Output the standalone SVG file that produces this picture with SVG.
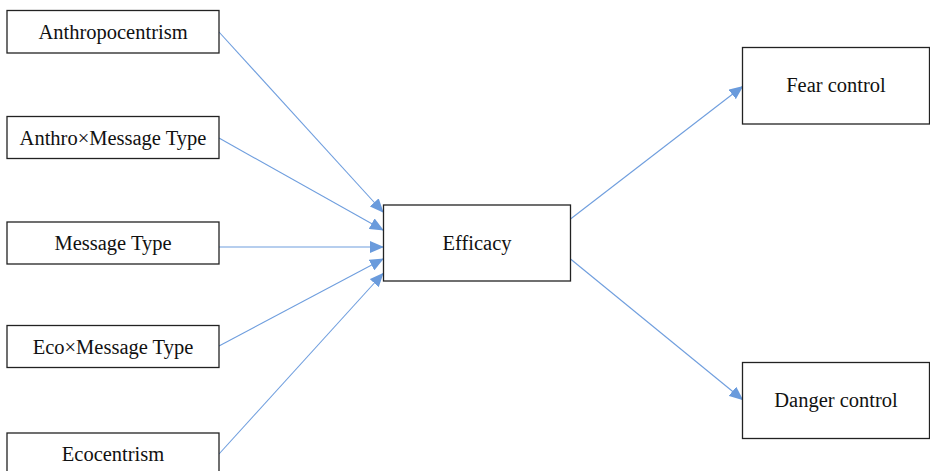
<svg xmlns="http://www.w3.org/2000/svg" width="930" height="471" viewBox="0 0 930 471">
<style>
.box{fill:#fff;stroke:#222;stroke-width:1.3}
.lbl{font-family:"Liberation Serif","Times New Roman",serif;font-size:20.5px;fill:#111;text-anchor:middle}
.edge{stroke:#6f9ede;stroke-width:1.1;fill:none;marker-end:url(#ah)}
</style>
<defs>
<marker id="ah" markerUnits="userSpaceOnUse" markerWidth="14" markerHeight="12" refX="13" refY="6" orient="auto" viewBox="0 0 14 12">
<path d="M0,0 L14,6 L0,12 Z" fill="#6a9bdc"/>
</marker>
</defs>
<rect width="930" height="471" fill="#fff"/>
<g id="connectors">
<line class="edge" x1="219" y1="32" x2="383" y2="212"/>
<line class="edge" x1="219" y1="138" x2="383" y2="230"/>
<line class="edge" x1="219" y1="247" x2="383" y2="247"/>
<line class="edge" x1="219" y1="346" x2="383" y2="259"/>
<line class="edge" x1="219" y1="454" x2="383" y2="273.5"/>
<line class="edge" x1="570.5" y1="219" x2="742.5" y2="86.5"/>
<line class="edge" x1="570.5" y1="259" x2="742.5" y2="399.5"/>
</g>
<g id="anthropocentrism">
<rect class="box" x="7" y="10.5" width="212" height="42.5"/>
<text class="lbl" x="113" y="38.5">Anthropocentrism</text>
</g>
<g id="anthro-message">
<rect class="box" x="7" y="116.5" width="212" height="42"/>
<text class="lbl" x="113" y="144.5">Anthro×Message Type</text>
</g>
<g id="message-type">
<rect class="box" x="7" y="222" width="212" height="42"/>
<text class="lbl" x="113" y="249.5">Message Type</text>
</g>
<g id="eco-message">
<rect class="box" x="7" y="325.5" width="212" height="42"/>
<text class="lbl" x="113" y="353.5">Eco×Message Type</text>
</g>
<g id="ecocentrism">
<rect class="box" x="7" y="433" width="212" height="50"/>
<text class="lbl" x="113" y="460.5">Ecocentrism</text>
</g>
<g id="efficacy">
<rect class="box" x="383.5" y="205" width="187" height="76"/>
<text class="lbl" x="477" y="249.5">Efficacy</text>
</g>
<g id="fear-control">
<rect class="box" x="742.5" y="47.5" width="187" height="76.5"/>
<text class="lbl" x="836" y="92">Fear control</text>
</g>
<g id="danger-control">
<rect class="box" x="742.5" y="362.5" width="187" height="76"/>
<text class="lbl" x="836" y="407">Danger control</text>
</g>
</svg>
